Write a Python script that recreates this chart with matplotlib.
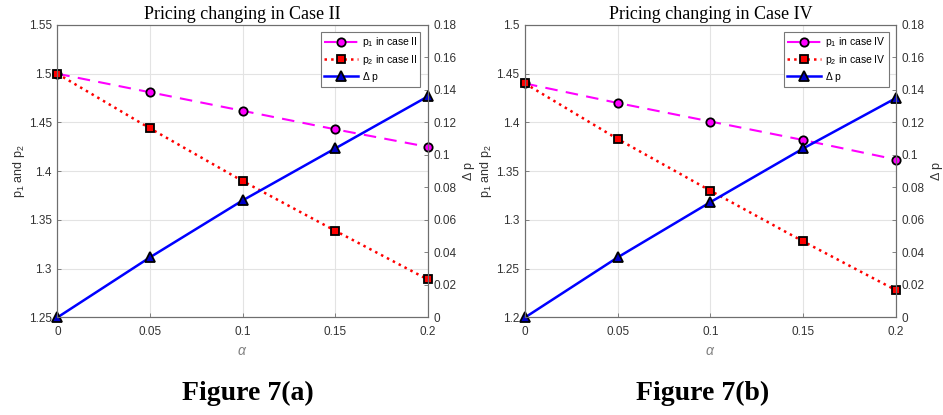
import matplotlib
matplotlib.use("Agg")
import matplotlib.pyplot as plt
from matplotlib.ticker import FormatStrFormatter

plt.rcParams["font.family"] = "Liberation Sans"
plt.rcParams["mathtext.fontset"] = "custom"
plt.rcParams["mathtext.rm"] = "Liberation Sans"
plt.rcParams["mathtext.it"] = "Liberation Sans:italic"

# data
alpha = [0, 0.05, 0.1, 0.15, 0.2]

p1_case2 = [1.500, 1.481, 1.462, 1.443, 1.425]
p2_case2 = [1.500, 1.444, 1.390, 1.339, 1.289]
dp_case2 = [0.0, 0.037, 0.072, 0.104, 0.136]

p1_case4 = [1.440, 1.420, 1.401, 1.382, 1.362]
p2_case4 = [1.440, 1.383, 1.330, 1.278, 1.228]
dp_case4 = [0.0, 0.037, 0.071, 0.104, 0.135]

x_ticks = [0, 0.05, 0.1, 0.15, 0.2]
dp_ticks = [0, 0.02, 0.04, 0.06, 0.08, 0.1, 0.12, 0.14, 0.16, 0.18]
yticks_a = [1.25, 1.3, 1.35, 1.4, 1.45, 1.5, 1.55]
yticks_b = [1.2, 1.25, 1.3, 1.35, 1.4, 1.45, 1.5]

AX_COL = "#6e6e6e"
TXT_COL = "#333333"


def style_axis(ax):
    for s in ax.spines.values():
        s.set_color(AX_COL)
        s.set_linewidth(0.8)
    ax.tick_params(direction="in", colors=AX_COL, labelcolor=TXT_COL,
                   labelsize=8.5, length=3, width=0.6, pad=4)
    ax.tick_params(axis="x", pad=6)


def draw_panel(ax, p1, p2, dp, yticks, case):
    ax.plot(alpha, p1, "--", color="#ff00ff", lw=1.5, dashes=(6, 4),
            marker="o", ms=6, mfc="#ff00ff", mec="black", mew=1.3,
            label=r"p$_1$ in case " + case)
    ax.plot(alpha, p2, ":", color="#ff0000", lw=1.8,
            marker="s", ms=5.5, mfc="#ff0000", mec="black", mew=1.3,
            label=r"p$_2$ in case " + case)
    ax.set_xlim(0, 0.2)
    ax.set_ylim(yticks[0], yticks[-1])
    ax.set_xticks(x_ticks)
    ax.set_yticks(yticks)
    ax.xaxis.set_major_formatter(FormatStrFormatter("%g"))
    ax.yaxis.set_major_formatter(FormatStrFormatter("%g"))
    ax.grid(True, color="#e3e3e3", lw=0.8)
    ax.set_axisbelow(True)
    style_axis(ax)
    ax.set_xlabel(r"$\alpha$", fontsize=10, color="#808080",
                  family="Liberation Serif", labelpad=5)
    ax.set_ylabel(r"p$_1$ and p$_2$", fontsize=9, color=TXT_COL, labelpad=1.5)
    ax.set_title("Pricing changing in Case " + case, family="Liberation Serif",
                 fontsize=13, pad=4)

    ax2 = ax.twinx()
    ax2.plot(alpha, dp, "-", color="#0000ff", lw=1.8,
             marker="^", ms=7.5, mfc="#0000cc", mec="black", mew=1.3,
             label=r"$\Delta$ p", clip_on=False)
    ax2.set_ylim(0, 0.18)
    ax2.set_yticks(dp_ticks)
    ax2.yaxis.set_major_formatter(FormatStrFormatter("%g"))
    style_axis(ax2)
    ax2.set_ylabel(r"$\Delta$ p", fontsize=9, color=TXT_COL, labelpad=3)

    for ln in ax.get_lines():
        ln.set_clip_on(False)

    h1, l1 = ax.get_legend_handles_labels()
    h2, l2 = ax2.get_legend_handles_labels()
    leg = ax2.legend(h1 + h2, l1 + l2, loc="upper right", fontsize=7.5,
                     fancybox=False, framealpha=1, edgecolor="#777777",
                     handlelength=3.2, borderaxespad=0.7, labelspacing=0.3,
                     handletextpad=0.4, borderpad=0.3)
    leg.get_frame().set_linewidth(0.8)
    return ax2


fig = plt.figure(figsize=(9.43, 4.15), dpi=100)
ax_a = fig.add_axes([0.0608, 0.235, 0.3928, 0.7048])
ax_b = fig.add_axes([0.5567, 0.235, 0.3934, 0.7048])

draw_panel(ax_a, p1_case2, p2_case2, dp_case2, yticks_a, "II")
draw_panel(ax_b, p1_case4, p2_case4, dp_case4, yticks_b, "IV")

fig.text(0.263, 0.053, "Figure 7(a)", family="Liberation Serif",
         weight="bold", fontsize=20, ha="center", va="center")
fig.text(0.745, 0.053, "Figure 7(b)", family="Liberation Serif",
         weight="bold", fontsize=20, ha="center", va="center")

fig.savefig("out.png", dpi=100)
